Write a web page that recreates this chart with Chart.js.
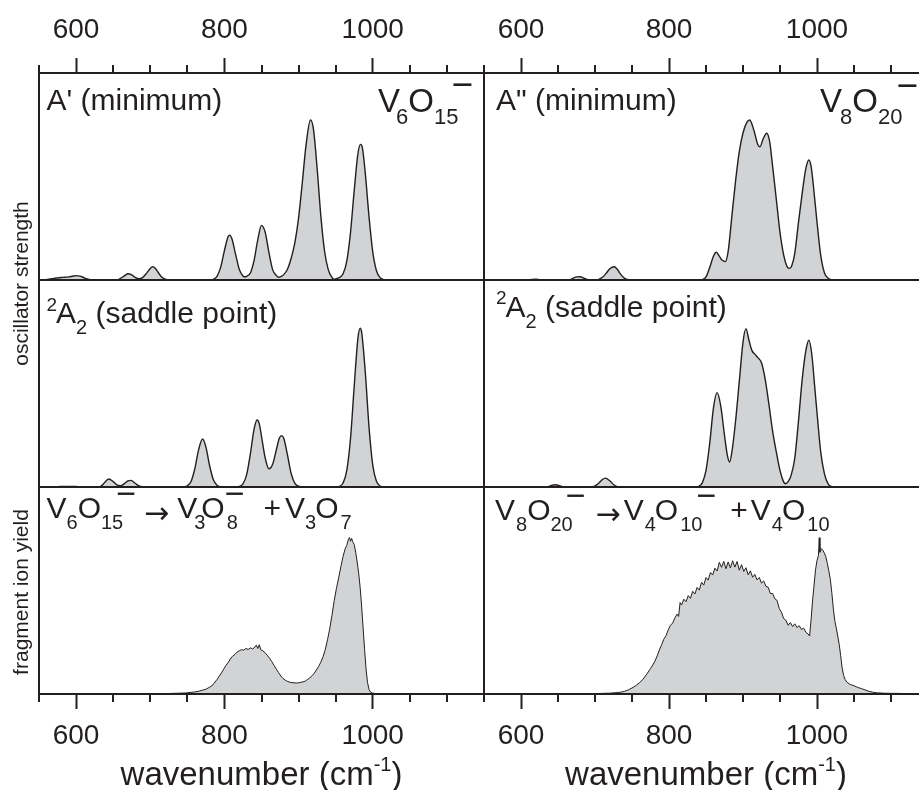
<!DOCTYPE html>
<html>
<head>
<meta charset="utf-8">
<script src="https://cdn.jsdelivr.net/npm/chart.js@4.4.1/dist/chart.umd.min.js"></script>
<style>
  html, body { margin: 0; padding: 0; background: #fff; overflow: hidden; width: 919px; height: 790px; }
  canvas { position: absolute; top: 0; }
  #left { left: 0; }
  #right { left: 470px; }
</style>
</head>
<body>
<canvas id="left" width="486" height="790"></canvas>
<canvas id="right" width="460" height="790"></canvas>
<script>
// wavenumber axis (cm-1)
const xMin = 550, xMax = 1150;
const majorTicks = [600, 800, 1000];
const minorTicks = [550, 650, 700, 750, 850, 900, 950, 1050, 1100, 1150];

// calculated spectra, [wavenumber, oscillator strength in % of panel height]
const v6Min = [[550,0],[555,0],[560,0.2],[565,0.5],[570,0.8],[575,1.0],[580,1.2],[585,1.3],[590,1.5],[595,1.8],[600,2.1],[605,1.9],[610,1.2],[615,0.5],[620,0.1],[625,0],[655,0],[660,0.8],[665,2.0],[670,3.0],[675,2.5],[680,1.2],[685,0.6],[690,1.3],[695,3.2],[700,5.6],[703,6.4],[707,5.6],[710,4.0],[715,1.6],[720,0.4],[725,0],[780,0],[785,0.3],[790,1.8],[795,6.2],[800,14.2],[805,21],[807,21.7],[810,20],[815,12.5],[820,5.2],[825,1.9],[827,1.6],[830,1.8],[835,3.4],[840,9.5],[845,19.5],[850,26.4],[855,23],[860,13.3],[865,5],[870,2.2],[873,1.3],[876,1.6],[880,2.6],[885,5.2],[890,10.5],[895,18],[900,30],[905,47],[910,65],[916,77.3],[920,73],[925,54],[930,31],[935,14],[940,5],[945,1.3],[948,0.4],[952,0.8],[955,1.2],[960,3.0],[965,9.1],[970,22.9],[975,43.2],[980,61],[983.5,65.5],[986,64],[990,51.3],[995,30.5],[1000,13.6],[1005,4.5],[1010,1.1],[1015,0.2],[1020,0],[1150,0]];

const v8Min = [[550,0],[610,0],[615,0.3],[620,0.4],[625,0.2],[630,0],[665,0],[670,0.8],[675,1.5],[680,1.6],[685,0.9],[690,0.2],[700,0],[705,0.3],[710,1.3],[715,3.2],[720,5.4],[726,6.4],[730,5.2],[735,2.6],[740,0.8],[745,0.1],[750,0],[840,0],[845,0.2],[850,1.5],[855,6],[860,11.5],[864,13.4],[868,11.5],[872,9.5],[876,8.9],[880,14],[885,31],[890,48],[895,62],[900,71],[905,76],[909,77.3],[915,72],[920,65.5],[923,64.4],[927,68],[932,70.9],[936,67],[940,55],[945,39],[950,23],[955,12],[960,6.2],[963,5.6],[966,7.0],[970,13],[975,28],[980,42],[985,54],[989,58],[992,55],[995,46],[1000,28],[1005,12],[1010,3.5],[1015,0.8],[1020,0.1],[1025,0],[1150,0]];

const v6Saddle = [[550,0],[575,0],[578,0.3],[600,0.3],[603,0],[630,0],[635,0.8],[640,2.8],[644,3.9],[650,2.6],[655,1.0],[660,0.6],[665,1.6],[670,3.0],[674,3.2],[680,1.7],[685,0.5],[690,0.1],[695,0],[745,0],[750,0.6],[755,2.7],[760,8.7],[765,17.7],[770.5,23.2],[775,19.4],[780,10.4],[785,3.6],[790,0.8],[795,0.1],[800,0],[815,0],[820,0.3],[825,1.5],[830,6],[835,16],[840,28],[844,32.4],[847,30.5],[850,24.5],[855,14],[860,8.8],[865,11],[870,18],[874,23.5],[877,24.8],[880,23.5],[885,15.5],[890,6.5],[895,1.8],[900,0.4],[905,0],[950,0],[955,0.3],[960,1.9],[965,8.0],[970,23.4],[975,48.7],[980,71.8],[983,76.7],[985,74.8],[990,55.2],[995,28.8],[1000,10.6],[1005,2.8],[1010,0.5],[1015,0.1],[1020,0],[1150,0]];

const v8Saddle = [[550,0],[635,0],[640,0.6],[646,1.1],[652,0.7],[657,0],[695,0],[700,0.5],[705,1.8],[710,3.6],[714,4.3],[720,3.0],[725,1.2],[730,0.2],[735,0],[835,0],[840,0.3],[845,2],[850,8],[855,21],[860,38],[865,45.6],[870,39],[875,25],[879,15],[882,12.1],[885,17],[890,32],[895,51],[900,70],[904,76.5],[908,71],[912,66],[916,64.2],[920,62.5],[925,60],[930,52],[935,40],[940,27],[945,17],[950,8],[954,3.2],[957,1.6],[961,2.6],[965,5.6],[970,14],[975,32],[980,52],[985,66],[989,70.9],[993,64],[997,48],[1000,36],[1005,17],[1010,6.5],[1015,1.5],[1020,0.2],[1025,0],[1150,0]];

// measured fragment ion yield, [wavenumber, yield in % of panel height]
const v6Yield = [[550,0],[700,0],[710,0.1],[720,0.2],[730,0.3],[740,0.4],[748,0.5],[755,0.8],[760,1.0],[765,1.3],[770,1.8],[775,2.3],[780,3.3],[783,3.9],[786,5.2],[790,7.0],[793,8.6],[796,10.2],[799,12.0],[802,13.8],[805,15.2],[808,16.9],[811,18.3],[814,19.1],[817,20.2],[820,20.9],[823,21.4],[826,21.2],[829,22.0],[832,21.5],[835,22.3],[838,21.8],[841,22.6],[843,23.6],[845,22.0],[847,23.8],[849,21.4],[852,20.8],[855,19.9],[858,18.6],[861,17.2],[864,15.6],[867,13.8],[870,12.0],[873,10.4],[876,8.7],[879,7.5],[882,6.7],[885,6.1],[888,5.7],[891,5.5],[894,5.4],[897,5.3],[900,5.4],[903,5.6],[906,5.9],[909,6.2],[912,7.0],[915,7.7],[918,8.8],[921,10.0],[924,11.6],[927,13.3],[930,15.4],[933,18.0],[936,21.5],[939,26.2],[942,31.5],[945,38.0],[948,45.0],[951,51.0],[954,56.0],[957,61.5],[960,66.5],[963,70.4],[965,71.8],[967,74.5],[968.5,75.6],[970,73.8],[971.5,75.2],[973,73.6],[975,72.2],[977,68.5],[979,63.8],[981,58.4],[983,51.5],[985,42.5],[987,32.0],[989,21.5],[991,12.0],[993,5.5],[995,2.2],[997,0.9],[1000,0.4],[1005,0.2],[1015,0.1],[1030,0.05],[1040,0],[1150,0]];

const v8Yield = [[550,0],[650,0],[700,0.2],[710,0.3],[720,0.4],[730,0.7],[735,0.9],[740,1.3],[745,2.0],[750,2.9],[755,4.0],[760,5.4],[765,7.2],[770,9.6],[775,12.3],[778,14.0],[781,15.9],[784,18.4],[787,21.3],[790,23.8],[793,26.5],[796,28.2],[799,31.0],[802,33.2],[805,34.3],[808,36.8],[811,38.6],[813,37.5],[815,44.2],[817,43.0],[820,45.8],[823,44.6],[826,47.5],[829,46.2],[832,49.6],[835,48.3],[838,51.5],[841,50.2],[844,54.0],[847,52.6],[850,56.3],[853,55.0],[856,58.7],[859,57.5],[862,60.8],[865,59.4],[868,63.6],[871,61.2],[874,64.1],[877,60.5],[880,63.8],[883,60.9],[886,64.4],[889,61.3],[892,64.0],[895,59.8],[898,62.5],[901,59.2],[904,61.0],[907,57.6],[910,59.5],[913,56.4],[916,57.8],[919,55.1],[922,56.3],[925,53.6],[928,54.6],[931,52.0],[934,51.6],[937,48.5],[940,48.6],[943,46.0],[946,45.2],[949,41.3],[952,39.5],[955,36.4],[958,35.6],[961,33.2],[964,34.5],[967,32.6],[970,33.9],[973,32.1],[976,33.0],[979,31.2],[982,31.8],[985,29.8],[988,29.0],[990,28.0],[992,36.0],[994,45.0],[996,52.5],[998,60.0],[1000,64.5],[1002,67.0],[1003,75.5],[1004,68.5],[1006,70.2],[1008,69.4],[1010,68.0],[1012,66.2],[1014,63.0],[1016,59.5],[1018,55.5],[1020,49.0],[1022,41.5],[1024,35.5],[1026,32.0],[1028,28.0],[1030,24.0],[1032,18.5],[1034,12.5],[1036,9.0],[1038,7.0],[1040,5.8],[1045,4.6],[1050,4.0],[1055,3.2],[1060,2.6],[1065,2.0],[1070,1.3],[1075,0.9],[1080,0.6],[1090,0.4],[1100,0.3],[1110,0.3],[1120,0.2],[1150,0.2]];

const INK = '#231f20';
const FILL = '#d1d3d4';
const FONT = '"Liberation Sans", Arial, sans-serif';
const ARROW_FONT = '"DejaVu Sans", sans-serif';

// text runs: [text, kind, kern]  n = normal, b = subscript, p = superscript, a = arrow,
// m = charge bar after the previous run, M = charge bar over the previous run
const leftLabels = [
  { axis: 'y1', dx: 7.5, dy: 36.5, size: 30, runs: [["A' (minimum)"]] },
  { axis: 'y1', dx: 339, dy: 38.5, size: 33, runs: [['V'], ['6', 'b', -4], ['O'], ['15', 'b'], ['\u2212', 'm', -7]] },
  { axis: 'y2', dx: 7.5, dy: 43.3, size: 30, runs: [['2', 'p'], ['A', 'n', -1], ['2', 'b'], [' (saddle point)']] },
  { axis: 'y3', dx: 7.5, dy: 31.3, size: 30, runs: [['V'], ['6', 'b'], ['O'], ['15', 'b'], ['\u2212', 'm', -7], ['\u2192', 'a', 8], ['V', 'n', 8], ['3', 'b', -3], ['O', 'n', -4], ['8', 'b', 2], ['\u2212', 'M'], ['+', 'n', 19], ['V', 'n', 4], ['3', 'b'], ['O', 'n', -1], ['7', 'b', 2]] }
];
const rightLabels = [
  { axis: 'y1', dx: 12, dy: 37, size: 30, runs: [['A" (minimum)']] },
  { axis: 'y1', dx: 336, dy: 39, size: 33, runs: [['V'], ['8', 'b', -2], ['O'], ['20', 'b'], ['\u2212', 'm', -6]] },
  { axis: 'y2', dx: 12, dy: 36.7, size: 30, runs: [['2', 'p'], ['A', 'n', -1], ['2', 'b'], [' (saddle point)']] },
  { axis: 'y3', dx: 11, dy: 33, size: 30, runs: [['V'], ['8', 'b', 1], ['O'], ['20', 'b'], ['\u2212', 'm', -7], ['\u2192', 'a', 10], ['V', 'n', 3], ['4', 'b', 1], ['O', 'n', -1], ['10', 'b', 2], ['\u2212', 'm', -6], ['+', 'n', 14], ['V', 'n', 3], ['4', 'b', 1], ['O', 'n', -1], ['10', 'b', 2]] }
];
const xTitleRuns = [['wavenumber (cm'], ['-1', 'p'], [')']];

function runFont(kind, size) {
  if (kind === 'b') return Math.round(size * 0.66) + 'px ' + FONT;
  if (kind === 'p') return Math.round(size * 0.62) + 'px ' + FONT;
  if (kind === 'a') return size + 'px ' + ARROW_FONT;
  if (kind === 'm' || kind === 'M') return Math.round(size * 1.12) + 'px ' + FONT;
  return size + 'px ' + FONT;
}
function runShift(kind, size) {
  if (kind === 'b') return size * 0.37;
  if (kind === 'p') return -size * 0.42;
  if (kind === 'a') return size * 0.14;
  if (kind === 'm' || kind === 'M') return -size * 0.43;
  return 0;
}
// place runs left to right, returns items and total width
function layoutRuns(ctx, runs, size) {
  let x = 0, prevStart = 0, end = 0;
  const items = runs.map(([t, kind = 'n', kern = 0]) => {
    const font = runFont(kind, size);
    ctx.font = font;
    const w = ctx.measureText(t).width;
    const start = kind === 'M' ? prevStart - 2 + kern : x + kern;
    x = Math.max(x, start + w);
    prevStart = start;
    end = x;
    return { t, font, start, dy: runShift(kind, size) };
  });
  return { items, width: end };
}
function drawRuns(ctx, x, y, runs, size) {
  const lay = layoutRuns(ctx, runs, size);
  lay.items.forEach(it => {
    ctx.font = it.font;
    ctx.fillText(it.t, x + it.start, y + it.dy);
  });
  return lay.width;
}

const panelText = {
  id: 'panelText',
  afterDraw(chart, args, opts) {
    const ctx = chart.ctx, a = chart.chartArea;
    ctx.save();
    ctx.fillStyle = INK;
    ctx.textAlign = 'left';
    ctx.textBaseline = 'alphabetic';
    (opts.labels || []).forEach(l => {
      drawRuns(ctx, a.left + l.dx, chart.scales[l.axis].top + l.dy, l.runs, l.size);
    });
    // wavenumber title, centred under the column
    const w = layoutRuns(ctx, xTitleRuns, 33).width;
    drawRuns(ctx, (a.left + a.right) / 2 - w / 2, a.bottom + 91, xTitleRuns, 33);
    // rotated y titles
    (opts.yTitles || []).forEach(t => {
      const cy = (chart.scales[t.from].top + chart.scales[t.to].bottom) / 2 + t.shift;
      ctx.save();
      ctx.translate(t.x, cy);
      ctx.rotate(-Math.PI / 2);
      ctx.font = '21px ' + FONT;
      ctx.textAlign = 'center';
      ctx.fillText(t.text, 0, 0);
      ctx.restore();
    });
    ctx.restore();
  }
};

// short unlabeled ticks every 50 cm-1
const minorTickMarks = {
  id: 'minorTickMarks',
  afterDraw(chart) {
    const ctx = chart.ctx, a = chart.chartArea;
    ctx.save();
    ctx.strokeStyle = INK;
    ctx.lineWidth = 2;
    [['x', a.bottom, 8], ['xTop', a.top, -8]].forEach(([id, y0, len]) => {
      const s = chart.scales[id];
      minorTicks.forEach(v => {
        const px = Math.round(s.getPixelForValue(v));
        ctx.beginPath();
        ctx.moveTo(px, y0);
        ctx.lineTo(px, y0 + len);
        ctx.stroke();
      });
    });
    ctx.restore();
  }
};

function spectrum(pairs, axis, smooth) {
  return {
    data: pairs.map(p => ({ x: p[0], y: p[1] })),
    xAxisID: 'x',
    yAxisID: axis,
    borderColor: INK,
    borderWidth: smooth ? 1.4 : 1,
    backgroundColor: FILL,
    fill: 'origin',
    pointRadius: 0,
    tension: smooth ? 0.4 : 0,
    cubicInterpolationMode: smooth ? 'monotone' : 'default'
  };
}

function xAxis(pos, pad) {
  return {
    type: 'linear', position: pos, min: xMin, max: xMax, offset: false,
    afterBuildTicks: s => { s.ticks = majorTicks.map(v => ({ value: v })); },
    ticks: { font: { family: FONT, size: 28 }, color: INK, padding: pad, maxRotation: 0, autoSkip: false, callback: v => String(v) },
    grid: { drawOnChartArea: false, drawTicks: true, tickLength: 15, tickWidth: 2, tickColor: INK },
    border: { display: true, color: INK, width: 2, z: 1 }
  };
}
function yAxis(separator) {
  return {
    type: 'linear', position: 'left', stack: 'rows', stackWeight: 1, min: 0, max: 100,
    afterBuildTicks: s => { s.ticks = [{ value: 0 }]; },
    ticks: { display: false },
    grid: { display: separator, drawTicks: false, color: INK, lineWidth: 2, z: 1 },
    border: { display: true, color: INK, width: 2, z: 1 }
  };
}

function makeChart(id, sets, labels, yTitles, pad) {
  return new Chart(document.getElementById(id), {
    type: 'line',
    data: { datasets: sets },
    options: {
      responsive: false,
      animation: false,
      devicePixelRatio: 1,
      layout: { padding: pad },
      scales: {
        x: xAxis('bottom', 10),
        xTop: xAxis('top', 11),
        y3: yAxis(false),
        y2: yAxis(true),
        y1: yAxis(true)
      },
      plugins: {
        legend: { display: false },
        tooltip: { enabled: false },
        panelText: { labels: labels, yTitles: yTitles }
      }
    },
    plugins: [panelText, minorTickMarks]
  });
}

makeChart('left',
  [spectrum(v6Min, 'y1', true), spectrum(v6Saddle, 'y2', true), spectrum(v6Yield, 'y3', false)],
  leftLabels,
  [
    { text: 'oscillator strength', from: 'y1', to: 'y2', x: 27.5, shift: 3.5 },
    { text: 'fragment ion yield', from: 'y3', to: 'y3', x: 27.5, shift: 1.5 }
  ],
  { left: 39, right: 2, top: 2.4, bottom: 27.4 });

makeChart('right',
  [spectrum(v8Min, 'y1', true), spectrum(v8Saddle, 'y2', true), spectrum(v8Yield, 'y3', false)],
  rightLabels,
  [],
  { left: 14, right: 2, top: 2.4, bottom: 27.4 });
</script>
</body>
</html>
